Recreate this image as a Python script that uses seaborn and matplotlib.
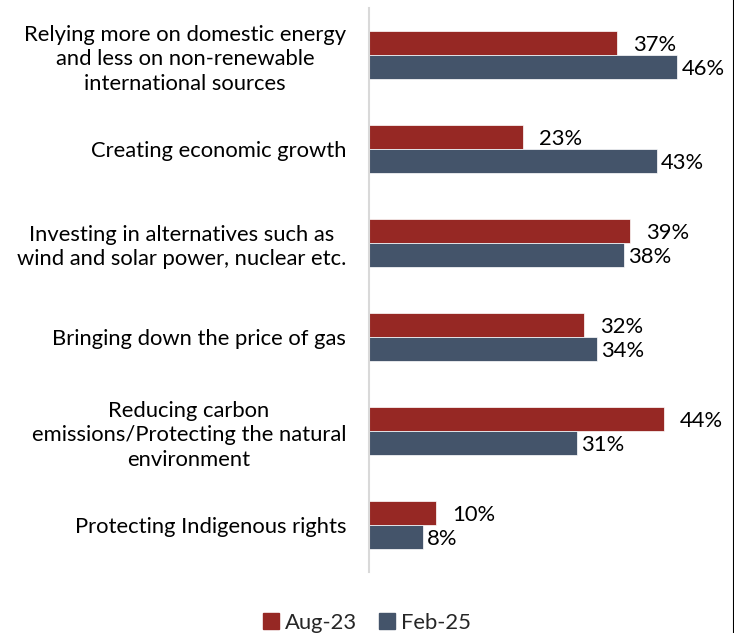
import matplotlib
matplotlib.use("Agg")
import matplotlib.pyplot as plt
from matplotlib.lines import Line2D
import seaborn as sns
import pandas as pd

categories = [
    "Relying more on domestic energy\nand less on non-renewable\ninternational sources",
    "Creating economic growth",
    "Investing in alternatives such as\nwind and solar power, nuclear etc.",
    "Bringing down the price of gas",
    "Reducing carbon\nemissions/Protecting the natural\nenvironment",
    "Protecting Indigenous rights",
]
series = ["Aug-23", "Feb-25"]
aug23 = [37, 23, 39, 32, 44, 10]
feb25 = [46, 43, 38, 34, 31, 8]
colors = ["#962824", "#44546A"]

df = pd.DataFrame({
    "category": categories * 2,
    "wave": [series[0]] * len(categories) + [series[1]] * len(categories),
    "value": aug23 + feb25,
})

sns.set_theme(style="white")
plt.rcParams["font.family"] = ["Lato", "DejaVu Sans"]
FS = 15.8

fig = plt.figure(figsize=(7.34, 6.33), dpi=100)
ax = fig.add_axes([369 / 734, 1 - 572 / 633, (731 - 369) / 734, (572 - 8) / 633])

sns.barplot(data=df, x="value", y="category", hue="wave", order=categories,
            hue_order=series, palette=colors, saturation=1, orient="h", width=0.51,
            edgecolor="white", linewidth=0.5, ax=ax, legend=False)

ax.set_xlim(0, 54)
ax.set_ylim(5.5, -0.5)
ax.set_xlabel("")
ax.set_ylabel("")
ax.set_xticks([])
ax.tick_params(axis="y", length=0, pad=16.5, labelsize=FS, colors="#000000")
for lbl in ax.get_yticklabels():
    lbl.set_multialignment("center")
    lbl.set_linespacing(1.28)

for s in ["top", "right", "bottom"]:
    ax.spines[s].set_visible(False)
ax.spines["left"].set_color("#D9D9D9")
ax.spines["left"].set_linewidth(1.5)

# Aug-23 labels sit a bit further from their bar ends than Feb-25 labels
offsets = [2.4, 0.6]
for cont, off in zip(ax.containers, offsets):
    for bar in cont:
        w = bar.get_width()
        ax.text(w + off, bar.get_y() + bar.get_height() / 2 + 0.02,
                f"{w:.0f}%", va="center", ha="left", fontsize=FS, color="#000000")

handles = [Line2D([0], [0], marker="s", color="none", markerfacecolor=c,
                  markeredgecolor=c, markersize=11) for c in colors]
fig.legend(handles, series, loc="center", bbox_to_anchor=(367 / 734, 1 - 623 / 633),
           ncol=2, frameon=False, fontsize=FS, handlelength=0.7,
           handletextpad=0.3, columnspacing=1.0)

fig.add_artist(Line2D([733.5 / 734, 733.5 / 734], [0, 1], color="black",
                      linewidth=1.5, transform=fig.transFigure))

fig.savefig("out.png", dpi=100)
